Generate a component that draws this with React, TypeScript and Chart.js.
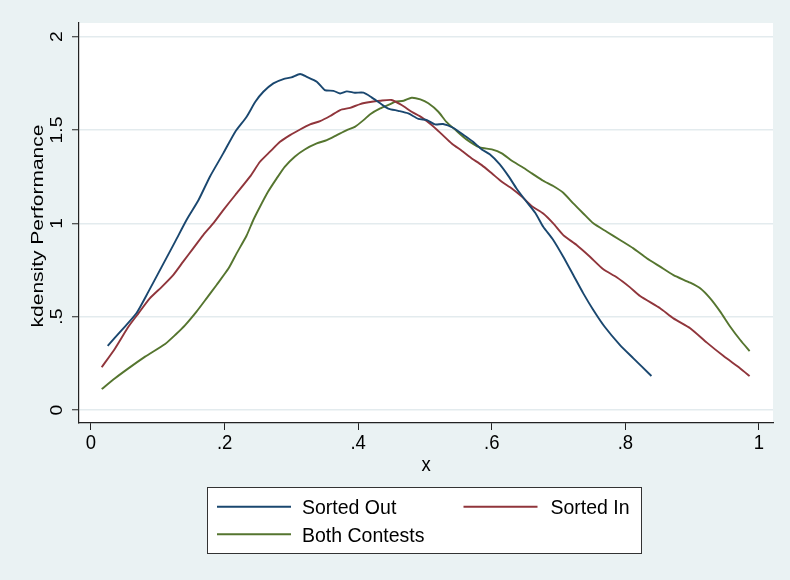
import React, { useEffect, useRef } from "react";
import { Chart, registerables } from "chart.js";

Chart.register(...registerables);

// Kernel density estimates of performance by contest group
const sortedOutX = [0.025, 0.046, 0.068, 0.086, 0.106, 0.126, 0.143, 0.161, 0.178, 0.198, 0.216, 0.233, 0.246, 0.258, 0.273, 0.288, 0.300, 0.313, 0.323, 0.338, 0.350, 0.363, 0.373, 0.383, 0.395, 0.408, 0.420, 0.433, 0.445, 0.460, 0.475, 0.490, 0.503, 0.515, 0.527, 0.542, 0.560, 0.572, 0.585, 0.597, 0.612, 0.625, 0.637, 0.650, 0.665, 0.677, 0.692, 0.707, 0.722, 0.737, 0.752, 0.769, 0.792, 0.812, 0.839];
const sortedOutY = [0.344, 0.428, 0.518, 0.634, 0.768, 0.902, 1.018, 1.125, 1.250, 1.375, 1.491, 1.571, 1.651, 1.705, 1.750, 1.773, 1.782, 1.800, 1.785, 1.759, 1.714, 1.710, 1.696, 1.707, 1.700, 1.700, 1.675, 1.643, 1.615, 1.603, 1.589, 1.560, 1.553, 1.530, 1.532, 1.512, 1.468, 1.437, 1.396, 1.370, 1.316, 1.253, 1.187, 1.125, 1.057, 0.982, 0.911, 0.821, 0.723, 0.625, 0.536, 0.446, 0.348, 0.277, 0.182];

const sortedInX = [0.016, 0.036, 0.056, 0.071, 0.088, 0.106, 0.123, 0.138, 0.153, 0.168, 0.183, 0.198, 0.216, 0.238, 0.253, 0.268, 0.283, 0.298, 0.313, 0.328, 0.343, 0.358, 0.373, 0.388, 0.403, 0.418, 0.433, 0.450, 0.465, 0.480, 0.495, 0.510, 0.525, 0.540, 0.555, 0.570, 0.585, 0.600, 0.615, 0.630, 0.645, 0.660, 0.677, 0.692, 0.707, 0.727, 0.747, 0.767, 0.787, 0.807, 0.822, 0.852, 0.872, 0.897, 0.922, 0.947, 0.972, 0.986];
const sortedInY = [0.229, 0.330, 0.446, 0.518, 0.598, 0.660, 0.723, 0.795, 0.866, 0.937, 1.000, 1.071, 1.152, 1.250, 1.330, 1.384, 1.437, 1.473, 1.503, 1.530, 1.548, 1.575, 1.607, 1.619, 1.639, 1.650, 1.657, 1.661, 1.634, 1.598, 1.568, 1.527, 1.478, 1.428, 1.389, 1.348, 1.312, 1.268, 1.223, 1.187, 1.143, 1.092, 1.053, 1.000, 0.937, 0.884, 0.821, 0.754, 0.711, 0.657, 0.611, 0.545, 0.491, 0.438, 0.361, 0.289, 0.223, 0.182];

const bothX = [0.016, 0.036, 0.056, 0.081, 0.111, 0.126, 0.141, 0.158, 0.173, 0.188, 0.206, 0.218, 0.233, 0.243, 0.253, 0.265, 0.278, 0.290, 0.305, 0.320, 0.338, 0.353, 0.368, 0.383, 0.395, 0.408, 0.418, 0.433, 0.448, 0.455, 0.468, 0.480, 0.493, 0.505, 0.520, 0.532, 0.547, 0.562, 0.582, 0.600, 0.615, 0.630, 0.645, 0.660, 0.677, 0.692, 0.707, 0.722, 0.737, 0.752, 0.772, 0.792, 0.812, 0.832, 0.852, 0.872, 0.897, 0.912, 0.927, 0.942, 0.957, 0.972, 0.986];
const bothY = [0.112, 0.170, 0.223, 0.286, 0.354, 0.402, 0.455, 0.527, 0.598, 0.670, 0.759, 0.839, 0.935, 1.018, 1.089, 1.169, 1.241, 1.303, 1.357, 1.396, 1.428, 1.446, 1.473, 1.500, 1.517, 1.553, 1.585, 1.616, 1.639, 1.651, 1.657, 1.673, 1.664, 1.643, 1.598, 1.544, 1.496, 1.450, 1.407, 1.396, 1.375, 1.335, 1.303, 1.268, 1.228, 1.200, 1.164, 1.107, 1.053, 1.000, 0.955, 0.911, 0.866, 0.813, 0.768, 0.723, 0.682, 0.652, 0.598, 0.527, 0.446, 0.375, 0.316];

const seriesNames = ["Sorted Out", "Sorted In", "Both Contests"];
const seriesColors = ["#1a476f", "#90353b", "#55752f"];

const xTicks = [0, 0.2, 0.4, 0.6, 0.8, 1];
const yTicks = [0, 0.5, 1, 1.5, 2];
const xTitle = "x";
const yTitle = "kdensity Performance";

const BG = "#EAF2F3";
const FONT = '"Liberation Sans", Arial, Helvetica, sans-serif';

const toPoints = (xs: number[], ys: number[]) => xs.map((x, i) => ({ x, y: ys[i] }));
const fmt = (v: number) => String(v).replace(/^0\./, ".");

// Text drawn with a slight stretch along its reading or height direction
function drawText(
  ctx: CanvasRenderingContext2D,
  text: string,
  x: number,
  y: number,
  size: number,
  stretch: number,
  rotated: boolean,
  align: CanvasTextAlign = "center"
) {
  ctx.save();
  ctx.translate(x, y);
  if (rotated) {
    ctx.rotate(-Math.PI / 2);
    ctx.scale(stretch, 1);
  } else {
    ctx.scale(1, stretch);
  }
  ctx.font = `${size}px ${FONT}`;
  ctx.fillStyle = "#000";
  ctx.textAlign = align;
  ctx.textBaseline = "alphabetic";
  ctx.fillText(text, 0, 0);
  ctx.restore();
}

const backgroundPlugin = {
  id: "stataBackground",
  beforeDraw(chart: any) {
    const { ctx, chartArea } = chart;
    ctx.save();
    ctx.fillStyle = BG;
    ctx.fillRect(0, 0, chart.width, chart.height);
    ctx.fillStyle = "#fff";
    ctx.fillRect(chartArea.left, chartArea.top, chartArea.right - chartArea.left, chartArea.bottom - chartArea.top);
    ctx.restore();
  },
};

const labelsPlugin = {
  id: "stataLabels",
  afterDraw(chart: any) {
    const { ctx, chartArea } = chart;
    const xs = chart.scales.x;
    const ys = chart.scales.y;

    // x tick labels and title
    xTicks.forEach((v) => {
      drawText(ctx, fmt(v), xs.getPixelForValue(v), 449, 18.5, 1.12, false);
    });
    drawText(ctx, xTitle, (chartArea.left + chartArea.right) / 2, 471, 18.5, 1.12, false);

    // y tick labels (rotated) and title
    yTicks.forEach((v) => {
      drawText(ctx, fmt(v), 62, ys.getPixelForValue(v), 16.5, 1.17, true);
    });
    drawText(ctx, yTitle, 43, 226, 17.2, 1.22, true);

    // legend box
    const bx = 207.5, by = 487.5, bw = 434, bh = 66;
    ctx.save();
    ctx.fillStyle = "#fff";
    ctx.fillRect(bx, by, bw, bh);
    ctx.strokeStyle = "#333";
    ctx.lineWidth = 1;
    ctx.strokeRect(bx, by, bw, bh);
    const entries = [
      { lx: 217, tx: 302, ly: 506.7, ty: 514 },
      { lx: 463.5, tx: 550.5, ly: 506.7, ty: 514 },
      { lx: 217, tx: 302, ly: 534.3, ty: 541.7 },
    ];
    entries.forEach((e, i) => {
      ctx.strokeStyle = seriesColors[i];
      ctx.lineWidth = 2;
      ctx.beginPath();
      ctx.moveTo(e.lx, e.ly);
      ctx.lineTo(e.lx + 74, e.ly);
      ctx.stroke();
      drawText(ctx, seriesNames[i], e.tx, e.ty, 19.5, 1.02, false, "left");
    });
    ctx.restore();
  },
};

export default function App() {
  const canvasRef = useRef<HTMLCanvasElement | null>(null);

  useEffect(() => {
    const canvas = canvasRef.current;
    if (!canvas) return;
    const data = [
      toPoints(sortedOutX, sortedOutY),
      toPoints(sortedInX, sortedInY),
      toPoints(bothX, bothY),
    ];
    const chart = new Chart(canvas, {
      type: "line",
      data: {
        datasets: data.map((pts, i) => ({
          label: seriesNames[i],
          data: pts,
          borderColor: seriesColors[i],
          backgroundColor: seriesColors[i],
          borderWidth: 1.9,
          pointRadius: 0,
          tension: 0.2,
          fill: false,
        })),
      },
      options: {
        responsive: false,
        animation: false,
        devicePixelRatio: 1,
        layout: { padding: { left: 0, top: 23, right: 17, bottom: 97 } },
        plugins: { legend: { display: false }, tooltip: { enabled: false } },
        scales: {
          x: {
            type: "linear",
            min: -0.01796,
            max: 1.021,
            afterBuildTicks: (s: any) => {
              s.ticks = xTicks.map((v) => ({ value: v }));
            },
            afterFit: (s: any) => {
              s.height = 60;
            },
            ticks: { display: false },
            grid: { drawOnChartArea: false, drawTicks: true, tickLength: 7, tickColor: "#222", tickWidth: 1 },
            border: { display: true, color: "#222", width: 1.2 },
          },
          y: {
            type: "linear",
            min: -0.0696,
            max: 2.0734,
            afterBuildTicks: (s: any) => {
              s.ticks = yTicks.map((v) => ({ value: v }));
            },
            afterFit: (s: any) => {
              s.width = 79;
            },
            ticks: { display: false },
            grid: { color: "#E3EBEE", lineWidth: 1.5, drawTicks: true, tickLength: 7, tickColor: "#222", tickWidth: 1 },
            border: { display: true, color: "#222", width: 1.2 },
          },
        },
      },
      plugins: [backgroundPlugin, labelsPlugin],
    });
    return () => chart.destroy();
  }, []);

  return (
    <div style={{ position: "fixed", left: 0, top: 0, width: 790, height: 580 }}>
      <canvas ref={canvasRef} width={790} height={580} style={{ display: "block" }} />
    </div>
  );
}
